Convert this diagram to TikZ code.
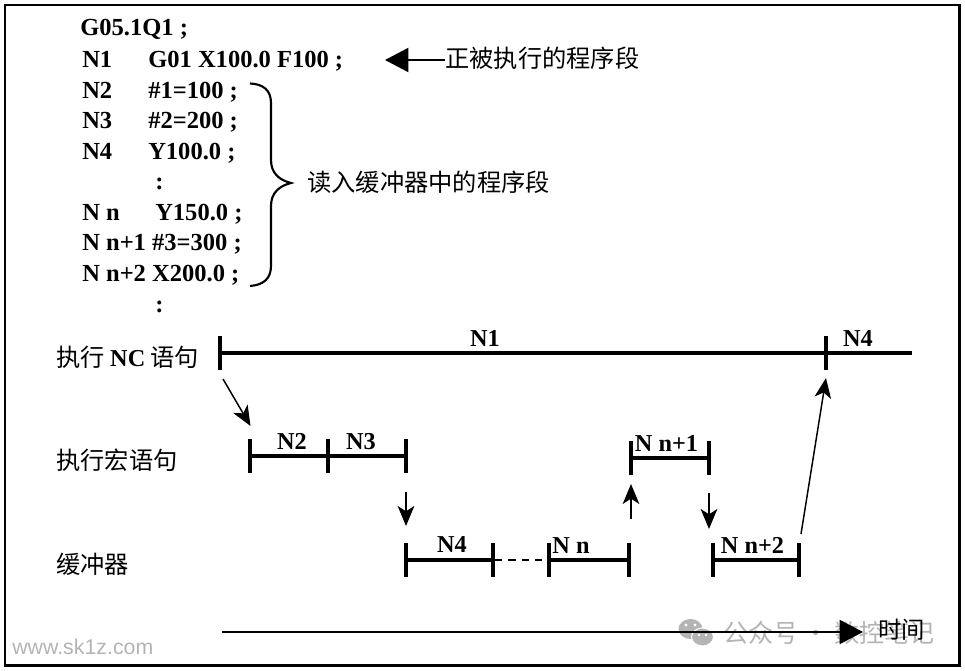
\documentclass[tikz,border=0pt]{standalone}
\usepackage{fontspec}
\setmainfont{Liberation Serif}
\setsansfont{Liberation Sans}
\newfontfamily\cjkfont{Noto Sans CJK SC}
\usepackage{tikz}
\usetikzlibrary{arrows.meta}
\usetikzlibrary{positioning}
\definecolor{wmgray}{HTML}{B4B4B4}
\tikzset{
	code/.style={anchor=base west,inner sep=0pt,font=\fontsize{18.4}{22}\selectfont\bfseries},
	seglabel/.style={anchor=base,inner sep=0pt,font=\fontsize{18.2}{22}\selectfont\bfseries},
	caption/.style={anchor=west,inner sep=0pt,font=\fontsize{18.2}{22}\selectfont\cjkfont},
	tick/.style={rectangle,fill=black,minimum width=2.6pt,minimum height=25.5pt,inner sep=0pt},
	seg/.style={line width=2.5pt},
	gap/.style={line width=1.2pt,dash pattern=on 5.5pt off 4.5pt},
	flow/.style={line width=1.1pt,-{Stealth[length=15pt,width=12.5pt,inset=4pt]}},
	bigflow/.style={line width=1.5pt,-{Triangle[length=17.5pt,width=18pt]}},
	watermark/.style={inner sep=0pt,text=wmgray}
}
\begin{document}
\begin{tikzpicture}[x=0.75pt,y=-0.75pt]
	\useasboundingbox (0,0) rectangle (965,671);
	\draw[line width=2pt] (5,5) rectangle (959.5,665.5);
	% watermark
	\node[watermark,anchor=base west,font=\fontsize{16}{20}\selectfont\sffamily] (SITE) at (12,654) {www.sk1z.com};
	\fill[wmgray] (690.5,629) ellipse (12 and 10);
	\fill[wmgray,draw=white,line width=0.8pt] (702.5,637) ellipse (11 and 9);
	\fill[white] (686,625) circle (1.6) (695,625) circle (1.6) (699,635) circle (1.3) (706,635) circle (1.3);
	\node[watermark,anchor=west,font=\fontsize{18.8}{22}\selectfont\cjkfont] (ACCOUNT) at (723,633) {公众号\hspace{4pt}·\hspace{4pt}数控笔记};
	% program
	\node[code] (G05) at (80,36) {G05.1Q1 ;};
	\node[code] (L1) at (82,67.5) {N1};
	\node[code] (L1B) at (148,67.5) {G01 X100.0 F100 ;};
	\node[code] (L2) at (82,98) {N2};
	\node[code] (L2B) at (148,98) {\#1=100 ;};
	\node[code] (L3) at (82,128.5) {N3};
	\node[code] (L3B) at (148,128.5) {\#2=200 ;};
	\node[code] (L4) at (82,159) {N4};
	\node[code] (L4B) at (148,159) {Y100.0 ;};
	\node[code] (DOTS1) at (155,189.5) {:};
	\node[code] (LN) at (82,220) {N n};
	\node[code] (LNB) at (155,220) {Y150.0 ;};
	\node[code] (LN1) at (82,250.5) {N n+1 \#3=300 ;};
	\node[code] (LN2) at (82,281) {N n+2 X200.0 ;};
	\node[code] (DOTS2) at (155,312) {:};
	% notes
	\node[caption] (RUNNING) at (445,58) {正被执行的程序段};
	\coordinate (RUNNING_TIP) at (385,60);
	\draw[bigflow] (RUNNING.west |- RUNNING_TIP) -- (RUNNING_TIP);
	\node[caption] (BUFFERED) at (307,182) {读入缓冲器中的程序段};
	\coordinate (BRACE_TIP) at (291,183);
	\draw[line width=1.6pt] (250,83.5) .. controls (263,84) and (271,90) .. (271,103) -- (271,160) .. controls (271,173) and (279,180) .. (BRACE_TIP) .. controls (279,186) and (271,193) .. (271,206) -- (271,266) .. controls (271,279) and (263,285) .. (250,286);
	% row labels
	\node[caption] (ROW1) at (56,357) {执行 {\bfseries\rmfamily NC} 语句};
	\node[caption] (ROW2) at (56,460) {执行宏语句};
	\node[caption] (ROW3) at (56,564) {缓冲器};
	% NC row
	\node[tick] (N1_START) at (220,353) {};
	\node[tick] (N4_START) at (826,353) {};
	\coordinate (N4_END) at (912,353);
	\draw[seg] (N1_START) -- (N4_START);
	\draw[seg] (N4_START) -- (N4_END);
	\node[seglabel] (N1_LABEL) at (485,346) {N1};
	\node[seglabel] (N4_LABEL) at (858,346) {N4};
	% macro row
	\node[tick] (M2_START) at (250,456) {};
	\node[tick] (M3_START) at (328,456) {};
	\node[tick] (M3_END) at (406,456) {};
	\draw[seg] (M2_START) -- (M3_START);
	\draw[seg] (M3_START) -- (M3_END);
	\node[seglabel] (M2_LABEL) at (292,449) {N2};
	\node[seglabel] (M3_LABEL) at (361,449) {N3};
	\node[tick] (MN_START) at (631,458) {};
	\node[tick] (MN_END) at (709,458) {};
	\draw[seg] (MN_START) -- (MN_END);
	\node[seglabel] (MN_LABEL) at (666.5,451) {N n+1};
	% buffer row
	\node[tick] (B4_START) at (406,560) {};
	\node[tick] (B4_END) at (493,560) {};
	\node[tick] (BN_START) at (549,560) {};
	\node[tick] (BN_END) at (629,560) {};
	\node[tick] (BP_START) at (713,560) {};
	\node[tick] (BP_END) at (799,560) {};
	\draw[seg] (B4_START) -- (B4_END);
	\draw[gap] (B4_END) -- (BN_START);
	\draw[seg] (BN_START) -- (BN_END);
	\draw[seg] (BP_START) -- (BP_END);
	\node[seglabel] (B4_LABEL) at (452,552.5) {N4};
	\node[seglabel] (BN_LABEL) at (571,553.5) {N n};
	\node[seglabel] (BP_LABEL) at (752.5,553.5) {N n+2};
	% order of execution
	\coordinate (c1) at (223,379);
	\coordinate (c2) at (250.5,426);
	\coordinate (c3) at (406,492);
	\coordinate (c4) at (406,526);
	\coordinate (c5) at (631,519);
	\coordinate (c6) at (631,484);
	\coordinate (c7) at (709,493);
	\coordinate (c8) at (709,529);
	\coordinate (c9) at (801,534);
	\coordinate (c10) at (826,378);
	\draw[flow] (c1) -- (c2);
	\draw[flow] (c3) -- (c4);
	\draw[flow] (c5) -- (c6);
	\draw[flow] (c7) -- (c8);
	\draw[flow] (c9) -- (c10);
	% time axis
	\coordinate (AXIS_START) at (222,632);
	\node[caption,font=\fontsize{17.5}{22}\selectfont\cjkfont] (TIME) at (878,630) {时间};
	\coordinate (AXIS_TIP) at (863,632);
	\draw[bigflow] (AXIS_START) -- (AXIS_TIP);
\end{tikzpicture}
\end{document}
